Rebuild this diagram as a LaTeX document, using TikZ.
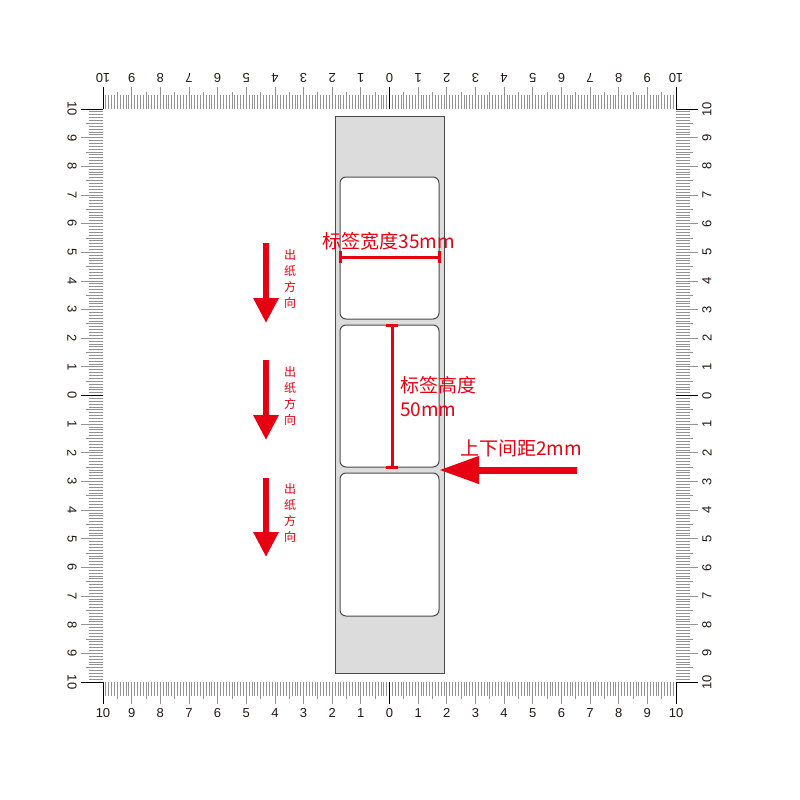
\documentclass[tikz,border=0pt]{standalone}
\usepackage{fontspec}
\setmainfont{Liberation Sans}
\newfontfamily\cjk{Noto Sans CJK SC}
\usetikzlibrary{arrows.meta}
\definecolor{myred}{HTML}{E60012}
\definecolor{tickgray}{HTML}{939393}
\definecolor{stripgray}{HTML}{DCDCDD}
\definecolor{edgegray}{HTML}{4A4A4C}
\definecolor{numcol}{HTML}{231815}
\begin{document}
\begin{tikzpicture}[x=1pt,y=-1pt,
  tick/.style={draw=tickgray,line width=0.8pt},
  keytick/.style={draw=black,line width=1pt},
  num/.style={font=\fontsize{13}{14}\selectfont,text=numcol,inner sep=0pt},
  strip/.style={fill=stripgray,draw=edgegray,line width=1pt},
  labelbox/.style={fill=white,draw=edgegray,line width=1pt,rounded corners=6pt},
  dimline/.style={draw=myred,line width=3pt},
  bigtext/.style={font=\cjk\fontsize{19}{22}\selectfont,text=myred,inner sep=0pt},
  smalltext/.style={font=\cjk\fontsize{12}{16}\selectfont,text=myred,inner sep=0pt,align=center},
  bigarrow/.style={draw=myred,line width=7pt,-{Triangle[length=40pt,width=26pt]}},
  downarrow/.style={draw=myred,line width=6pt,-{Triangle[length=25pt,width=24pt]}}]
\useasboundingbox (0,0) rectangle (800,800);
\fill[white] (0,0) rectangle (800,800);
% ---------- rulers: ticks ----------
\foreach \i in {0,...,200}{
  \pgfmathsetmacro\p{103+\i*2.865}
  \pgfmathsetmacro\q{109+\i*2.865}
  \draw[tick] (\p,109) -- ++(0,-14);
  \draw[tick] (\p,682) -- ++(0,14);
  \draw[tick] (103,\q) -- ++(-14,0);
  \draw[tick] (676,\q) -- ++(14,0);
}
\foreach \i in {5,15,...,195}{
  \pgfmathsetmacro\p{103+\i*2.865}
  \pgfmathsetmacro\q{109+\i*2.865}
  \draw[tick] (\p,109) -- ++(0,-17);
  \draw[tick] (\p,682) -- ++(0,17);
  \draw[tick] (103,\q) -- ++(-17,0);
  \draw[tick] (676,\q) -- ++(17,0);
}
\foreach \k in {0,...,20}{
  \pgfmathsetmacro\p{103+\k*28.65}
  \pgfmathsetmacro\q{109+\k*28.65}
  \draw[tick] (\p,109) -- ++(0,-22);
  \draw[tick] (\p,682) -- ++(0,22);
  \draw[tick] (103,\q) -- ++(-22,0);
  \draw[tick] (676,\q) -- ++(22,0);
}
\foreach \k in {0,10,20}{
  \pgfmathsetmacro\p{103+\k*28.65}
  \pgfmathsetmacro\q{109+\k*28.65}
  \draw[keytick] (\p,109) -- ++(0,-22);
  \draw[keytick] (\p,682) -- ++(0,22);
  \draw[keytick] (103,\q) -- ++(-22,0);
  \draw[keytick] (676,\q) -- ++(22,0);
}
% ---------- rulers: numbers ----------
\foreach \k in {0,...,20}{
  \pgfmathtruncatemacro\v{abs(\k-10)}
  \pgfmathsetmacro\p{103+\k*28.65}
  \pgfmathsetmacro\q{109+\k*28.65}
  \node[num,rotate=180] (top\k) at (\p,78) {\v};
  \node[num] (bot\k) at (\p,713) {\v};
  \node[num,rotate=-90] (lft\k) at (72,\q) {\v};
  \node[num,rotate=90] (rgt\k) at (707,\q) {\v};
}
% ---------- label strip ----------
\draw[strip] (335,116) rectangle (444,673);
\draw[labelbox] (340,177) rectangle (439,319);
\draw[labelbox] (340,325) rectangle (439,467);
\draw[labelbox] (340,473) rectangle (439,616);
% ---------- width dimension ----------
\coordinate (wl) at (340,257);
\coordinate (wr) at (439,257);
\draw[dimline] (wl) -- (wr);
\draw[dimline] ([yshift=-6pt]wl) -- ([yshift=6pt]wl);
\draw[dimline] ([yshift=-6pt]wr) -- ([yshift=6pt]wr);
\node[bigtext] (wtext) at (389,241) {标签宽度35mm};
% ---------- height dimension ----------
\coordinate (ht) at (392,325);
\coordinate (hb) at (392,467);
\draw[dimline] (ht) -- (hb);
\draw[dimline] ([xshift=-6pt]ht) -- ([xshift=6pt]ht);
\draw[dimline] ([xshift=-6pt]hb) -- ([xshift=6pt]hb);
\node[bigtext,anchor=west] (htext1) at (400,385) {标签高度};
\node[bigtext,anchor=west] (htext2) at (400,410) {50mm};
% ---------- gap arrow ----------
\node[bigtext] (gtext) at (521,448) {上下间距2mm};
\coordinate (gtail) at (577,470);
\coordinate (gtip) at (439,470);
\draw[bigarrow] (gtail) -- (gtip);
% ---------- feed direction arrows ----------
\coordinate (a1s) at (266,243); \coordinate (a1e) at (266,323);
\coordinate (a2s) at (266,360); \coordinate (a2e) at (266,440);
\coordinate (a3s) at (266,478); \coordinate (a3e) at (266,557);
\draw[downarrow] (a1s) -- (a1e);
\draw[downarrow] (a2s) -- (a2e);
\draw[downarrow] (a3s) -- (a3e);
\node[smalltext] (d1) at (290,279) {出\\纸\\方\\向};
\node[smalltext] (d2) at (290,396) {出\\纸\\方\\向};
\node[smalltext] (d3) at (290,513) {出\\纸\\方\\向};
\end{tikzpicture}
\end{document}
